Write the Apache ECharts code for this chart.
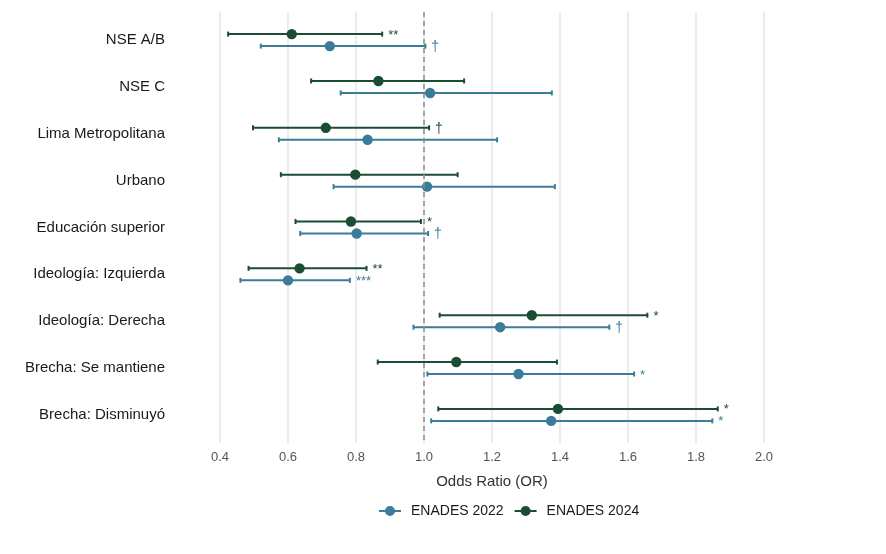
<!DOCTYPE html>
<html lang="es">
<head>
<meta charset="UTF-8" />
<title>Odds Ratio ENADES</title>
<style>
  html, body { margin: 0; padding: 0; background: #fff; }
</style>
</head>
<body>
<div id="main" style="width: 886px; height: 554px"></div>
<script src="https://cdn.jsdelivr.net/npm/echarts@6.0.0/dist/echarts.min.js"></script>
<script>
  // categorías (de arriba hacia abajo)
  var categories = ['NSE A/B', 'NSE C', 'Lima Metropolitana', 'Urbano', 'Educación superior',
    'Ideología: Izquierda', 'Ideología: Derecha', 'Brecha: Se mantiene', 'Brecha: Disminuyó'];

  // ENADES 2022
  var or2022 = [0.723, 1.018, 0.834, 1.009, 0.802, 0.600, 1.224, 1.278, 1.374];
  var lo2022 = [0.520, 0.755, 0.573, 0.734, 0.636, 0.460, 0.969, 1.010, 1.021];
  var hi2022 = [1.004, 1.376, 1.215, 1.385, 1.012, 0.782, 1.545, 1.618, 1.848];
  var sig2022 = ['†', '', '', '', '†', '***', '†', '*', '*'];

  // ENADES 2024
  var or2024 = [0.611, 0.866, 0.711, 0.798, 0.785, 0.634, 1.317, 1.095, 1.394];
  var lo2024 = [0.424, 0.668, 0.497, 0.579, 0.622, 0.484, 1.046, 0.864, 1.042];
  var hi2024 = [0.877, 1.118, 1.015, 1.099, 0.991, 0.831, 1.657, 1.391, 1.864];
  var sig2024 = ['**', '', '†', '', '*', '**', '*', '', '*'];

  var c2022 = '#3b7d99';
  var c2024 = '#1b4d32';
  var font = 'Liberation Sans, Arial, sans-serif';

  // arma las filas [OR, lo, hi, posición y]
  function buildRows(or, lo, hi, shift) {
    return or.map(function (v, i) {
      return [v, lo[i], hi[i], i + 1 + shift];
    });
  }

  function makeRender(sig) {
    return function (params, api) {
      var y = api.value(3);
      var p = api.coord([api.value(0), y]);
      var l = api.coord([api.value(1), y]);
      var h = api.coord([api.value(2), y]);
      var color = api.visual('color');
      var cap = 2.5;
      var children = [
        { type: 'line', shape: { x1: l[0], y1: l[1], x2: h[0], y2: h[1] }, style: { stroke: color, lineWidth: 2 } },
        { type: 'line', shape: { x1: l[0], y1: l[1] - cap, x2: l[0], y2: l[1] + cap }, style: { stroke: color, lineWidth: 2 } },
        { type: 'line', shape: { x1: h[0], y1: h[1] - cap, x2: h[0], y2: h[1] + cap }, style: { stroke: color, lineWidth: 2 } },
        { type: 'circle', shape: { cx: p[0], cy: p[1], r: 5.2 }, style: { fill: color } }
      ];
      var s = sig[params.dataIndex];
      if (s) {
        children.push({
          type: 'text',
          style: {
            text: s, x: h[0] + 6, y: h[1] + 1, fill: color,
            font: (s === '†' ? '14px ' : '13px ') + font, align: 'left', verticalAlign: 'middle'
          }
        });
      }
      return { type: 'group', children: children };
    };
  }

  var legendIcon = 'path://M0,4 L22,4 L22,6 L0,6 Z M16,5 A5,5 0 1 1 6,5 A5,5 0 1 1 16,5 Z';

  var myChart = echarts.init(document.getElementById('main'));
  var option = {
    animation: false,
    textStyle: { fontFamily: font },
    grid: { left: 220, right: 122, top: 12, bottom: 111 },
    legend: {
      data: [
        { name: 'ENADES 2022', icon: legendIcon },
        { name: 'ENADES 2024', icon: legendIcon }
      ],
      left: 374,
      top: 499,
      itemWidth: 22,
      itemHeight: 10,
      itemGap: 11,
      textStyle: { fontSize: 14, color: '#1a1a1a', padding: [0, 0, 0, 5] }
    },
    xAxis: {
      type: 'value',
      min: 0.4,
      max: 2.0,
      interval: 0.2,
      name: 'Odds Ratio (OR)',
      nameLocation: 'middle',
      nameGap: 31,
      nameTextStyle: { fontSize: 15, color: '#333' },
      axisLine: { show: false },
      axisTick: { show: false },
      axisLabel: {
        fontSize: 13, color: '#555', margin: 8,
        formatter: function (v) { return v.toFixed(1); }
      },
      splitLine: { lineStyle: { color: '#e6e6e6', width: 1.5 } }
    },
    yAxis: {
      type: 'value',
      inverse: true,
      min: 0.4,
      max: 9.6,
      axisLine: { show: false },
      axisTick: { show: false },
      splitLine: { show: false },
      axisLabel: {
        customValues: categories.map(function (c, i) { return i + 1; }),
        fontSize: 15,
        color: '#1a1a1a',
        margin: 55,
        padding: [4, 0, 0, 0],
        formatter: function (v) { return categories[Math.round(v) - 1]; }
      }
    },
    series: [
      {
        type: 'line',
        data: [],
        z: 1,
        markLine: {
          silent: true,
          symbol: 'none',
          label: { show: false },
          lineStyle: { type: [5, 4], color: '#8c8c8c', width: 1.5 },
          data: [{ xAxis: 1.0 }]
        }
      },
      {
        name: 'ENADES 2022',
        type: 'custom',
        z: 3,
        itemStyle: { color: c2022 },
        encode: { x: [0, 1, 2], y: 3 },
        renderItem: makeRender(sig2022),
        data: buildRows(or2022, lo2022, hi2022, 0.128)
      },
      {
        name: 'ENADES 2024',
        type: 'custom',
        z: 4,
        itemStyle: { color: c2024 },
        encode: { x: [0, 1, 2], y: 3 },
        renderItem: makeRender(sig2024),
        data: buildRows(or2024, lo2024, hi2024, -0.128)
      }
    ]
  };
  myChart.setOption(option);
</script>
</body>
</html>
